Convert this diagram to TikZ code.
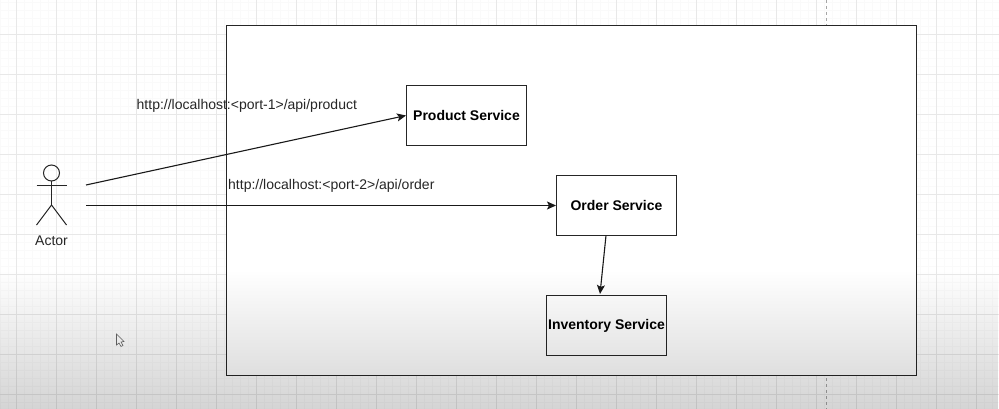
\documentclass[tikz,border=0pt]{standalone}
\usepackage{fontspec}
\setmainfont{Liberation Sans}
\usetikzlibrary{fadings,arrows.meta}
\tikzfading[name=fadebottom, top color=transparent!100, bottom color=transparent!0]
\tikzset{
	service/.style={draw=black!85, fill=white, line width=1pt, minimum width=120pt, minimum height=60pt, inner sep=0pt, font=\fontsize{14}{16}\selectfont\bfseries},
	urllabel/.style={inner sep=0pt, font=\fontsize{14}{16}\selectfont, text=black!85},
	stick/.style={draw=black!85, line width=1pt},
	link/.style={draw=black!90, line width=1.1pt, -{Stealth[length=9pt, width=8pt, inset=2pt]}}
}
\begin{document}
\begin{tikzpicture}[x=1pt, y=-1pt]
	\useasboundingbox (0,0) rectangle (999,409);
	\fill[white] (0,0) rectangle (999,409);
	% grid
	\foreach \gx in {0,8,...,999}
		\draw[black!2, line width=0.5pt] (\gx,0) -- (\gx,409);
	\foreach \gy in {2,10,...,409}
		\draw[black!2, line width=0.5pt] (0,\gy) -- (999,\gy);
	\foreach \gx in {16,56,...,999}
		\draw[black!9, line width=1pt] (\gx.5,0) -- (\gx.5,409);
	\foreach \gy in {34,74,...,409}
		\draw[black!9, line width=1pt] (0,\gy.5) -- (999,\gy.5);
	\draw[black!35, line width=0.8pt, dashed] (826.5,0) -- (826.5,409);
	% system box
	\node[draw=black!85, fill=white, line width=1pt, minimum width=690pt, minimum height=350pt, inner sep=0pt] (system) at (571.5,200.5) {};
	% services
	\node[service] (product) at (466.5,115.5) {Product Service};
	\node[service] (order) at (616.5,205.5) {Order Service};
	\node[service] (inventory) at (606.5,325.5) {Inventory Service};
	% actor
	\draw[stick] (51.5,173) circle (8);
	\draw[stick] (51.5,181) -- (51.5,205);
	\draw[stick] (36.5,185.5) -- (66.5,185.5);
	\draw[stick] (36.5,225) -- (51.5,205) -- (66.5,225);
	\node[urllabel] (actor) at (51.5,240.5) {Actor};
	% connectors
	\coordinate (actorup) at (86,185);
	\coordinate (actordown) at (86,205.5);
	\coordinate (orderout) at (606,235.5);
	\coordinate (inventoryin) at (600,294);
	\draw[link] (actorup) -- (product.west);
	\draw[link] (actordown) -- (order.west);
	\draw[link] (orderout) -- (inventoryin);
	\node[urllabel, anchor=west] (producturl) at (136.5,106) {http://localhost:<port-1>/api/product};
	\node[urllabel, anchor=west] (orderurl) at (228,186) {http://localhost:<port-2>/api/order};
	% pointer
	\draw[black!60, fill=white, line width=0.6pt] (116.5,334) -- (116.5,345) -- (119,343) -- (121,346.5) -- (123,345.5) -- (121,342) -- (124,341.5) -- cycle;
	% darkening towards the bottom
	\fill[black, opacity=0.17, path fading=fadebottom] (0,270) rectangle (999,409);
\end{tikzpicture}
\end{document}
